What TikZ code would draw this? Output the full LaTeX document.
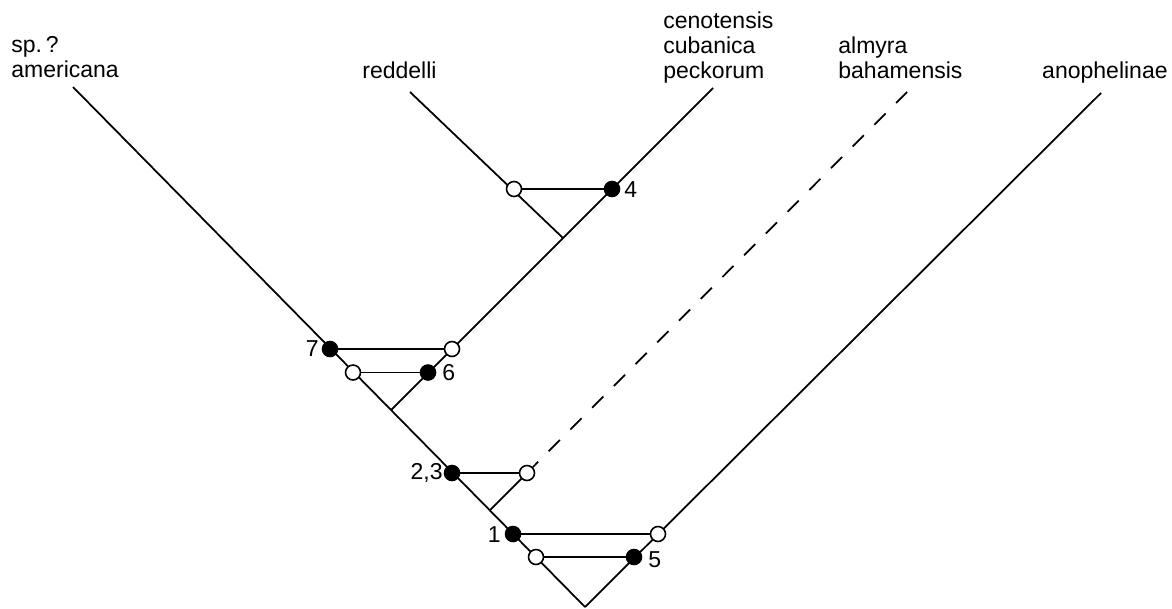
\documentclass[tikz,border=0pt]{standalone}
\usepackage{fontspec}
\setmainfont{Liberation Sans}
\begin{document}
\begin{tikzpicture}[x=0.02cm,y=-0.02cm,
  branch/.style={line width=1pt},
  dashbranch/.style={line width=1pt,dash pattern=on 9pt off 8.5pt},
  bar/.style={line width=1pt},
  opendot/.style={circle,draw,line width=0.9pt,fill=white,inner sep=0,minimum size=0.3cm},
  filldot/.style={circle,draw,line width=0.9pt,fill=black,inner sep=0,minimum size=0.3cm},
  lab/.style={font=\fontsize{13.1}{14.2}\selectfont,inner sep=0,align=left,text depth=0pt},
  num/.style={font=\fontsize{13.1}{14.2}\selectfont,inner sep=0}]
\useasboundingbox (0,0) rectangle (1172,608);
% coordinates
\coordinate (R) at (585,607);
\coordinate (tA) at (73,87);
\coordinate (tR) at (410,92);
\coordinate (tC) at (713,88);
\coordinate (tB) at (907,92);
\coordinate (tN) at (1101,93);
\coordinate (j6) at (391,410);
\coordinate (jal) at (490,510);
\coordinate (jc) at (563,238);
% main lines
\draw[branch] (tA) -- (R);
\draw[branch] (R) -- (tN);
\draw[branch] (j6) -- (tC);
\draw[branch] (jc) -- (tR);
\draw[branch] (jal) -- (527,473);
\draw[dashbranch] (527,473) -- (tB);
% bars
\draw[bar] (330,349) -- (452,349);
\draw[bar] (353,372.5) -- (428,372.5);
\draw[bar] (452,473) -- (527,473);
\draw[bar] (513,534) -- (658,534);
\draw[bar] (536,557) -- (634,557);
\draw[bar] (514,189) -- (612,189);
% dots
\node[filldot] (n7) at (330,349) {};
\node[opendot] (oC) at (452,349) {};
\node[opendot] (o76) at (353,372.5) {};
\node[filldot] (n6) at (428,372.5) {};
\node[filldot] (n23) at (452,473) {};
\node[opendot] (oB) at (527,473) {};
\node[filldot] (n1) at (513,534) {};
\node[opendot] (oN) at (658,534) {};
\node[opendot] (o5) at (536,557) {};
\node[filldot] (n5) at (634,557) {};
\node[opendot] (oR) at (514,189) {};
\node[filldot] (n4) at (612,189) {};
% numbers
\node[num,anchor=west] (l4) at (624,190) {4};
\node[num,anchor=east] (l7) at (319,349) {7};
\node[num,anchor=west] (l6) at (442,373) {6};
\node[num,anchor=east] (l23) at (443,473) {2,3};
\node[num,anchor=east] (l1) at (501,535) {1};
\node[num,anchor=west] (l5) at (648,560) {5};
% taxon labels
\node[lab,anchor=south west] (Lam) at (11,78) {sp.\,?\\americana};
\node[lab,anchor=south west] (Lre) at (362,79) {reddelli};
\node[lab,anchor=south west] (Lce) at (663,79) {cenotensis\\cubanica\\peckorum};
\node[lab,anchor=south west] (Lal) at (838,79) {almyra\\bahamensis};
\node[lab,anchor=south east] (Lan) at (1168,79) {anophelinae};
\end{tikzpicture}
\end{document}
